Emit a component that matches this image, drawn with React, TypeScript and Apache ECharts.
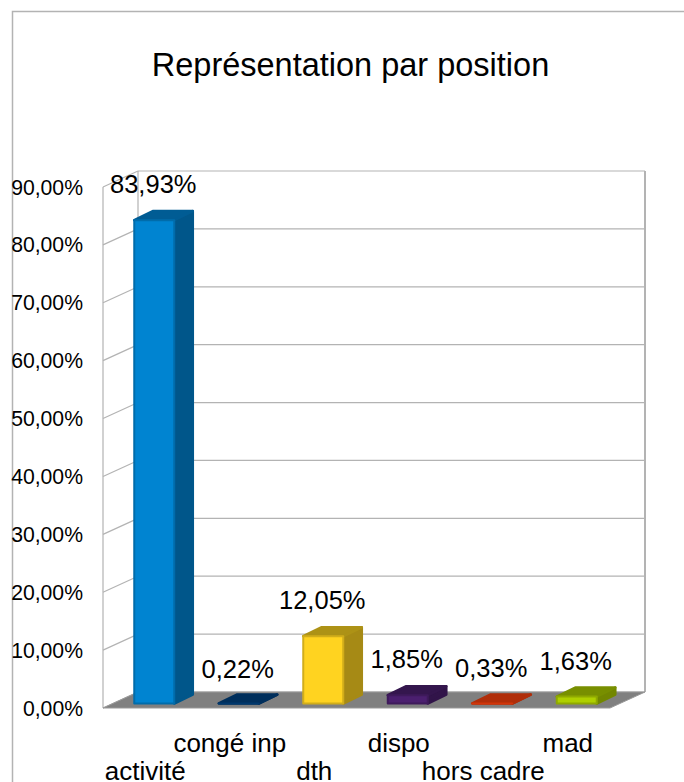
import React, { useEffect, useRef } from "react";
import * as echarts from "echarts";

const titleText = "Représentation par position";
const categories = ["activité", "congé inp", "dth", "dispo", "hors cadre", "mad"];
const values = [83.93, 0.22, 12.05, 1.85, 0.33, 1.63];
const frontColors = ["#0084d1", "#004586", "#ffd320", "#4b1f6f", "#ff420e", "#aecf00"];
const edgeColors = ["#006cab", "#00386d", "#d1ad1a", "#3e1a5b", "#d1360b", "#8fa900"];
const sideColors = ["#00568a", "#002d58", "#a68a15", "#311449", "#a62b09", "#728700"];
const topColors = ["#005c94", "#002f5c", "#ad9216", "#34164d", "#b02e0a", "#788f00"];
const yTicks = [0, 10, 20, 30, 40, 50, 60, 70, 80, 90];

const FONT = '"Liberation Sans", Arial, sans-serif';
const GRID = "#b3b3b3";
const WALL_DX = 35;
const WALL_DY = -16;
const BAR_W = 40;
const BAR_SHIFT = 9;
const BAR_DX = 18.5;
const BAR_DY = -9;

const pct = (v: number) => v.toFixed(2).replace(".", ",") + "%";

function renderWall(params: any, api: any) {
  const cs = params.coordSys;
  const left = cs.x;
  const right = cs.x + cs.width;
  const v = api.value(1);
  const y = api.coord([0, v])[1];
  const line = (x1: number, y1: number, x2: number, y2: number) => ({
    type: "line",
    shape: { x1, y1, x2, y2 },
    style: { stroke: GRID, lineWidth: 1.2, fill: "none" },
  });
  const children: any[] = [
    line(left, y, left + WALL_DX, y + WALL_DY),
    line(left + WALL_DX, y + WALL_DY, right + WALL_DX, y + WALL_DY),
  ];
  if (params.dataIndex === 0) {
    const y90 = api.coord([0, yTicks[yTicks.length - 1]])[1];
    children.push(
      line(left, y, left, y90),
      line(left + WALL_DX, y + WALL_DY, left + WALL_DX, y90 + WALL_DY),
      { ...line(right + WALL_DX, y + WALL_DY, right + WALL_DX, y90 + WALL_DY), style: { stroke: GRID, lineWidth: 2, fill: "none" } },
    );
    children.push({
      type: "polygon",
      shape: {
        points: [
          [left, y],
          [right, y],
          [right + WALL_DX, y + WALL_DY],
          [left + WALL_DX, y + WALL_DY],
        ],
      },
      style: { fill: "#808080", stroke: "#999999", lineWidth: 1 },
    });
  }
  return { type: "group", children };
}

function renderBar(params: any, api: any) {
  const i = params.dataIndex;
  const v = api.value(1);
  const c = api.coord([i, v]);
  const base = api.coord([i, 0])[1] - 4.5;
  const top = Math.min(c[1] - 2, base);
  const x0 = c[0] + BAR_SHIFT - BAR_W / 2;
  const x1 = x0 + BAR_W;
  const poly = (pts: number[][], fill: string, stroke: string, lineWidth: number) => ({
    type: "polygon",
    shape: { points: pts },
    style: { fill, stroke, lineWidth, lineJoin: "round" },
  });
  return {
    type: "group",
    children: [
      poly([[x1, base], [x1 + BAR_DX, base + BAR_DY], [x1 + BAR_DX, top + BAR_DY], [x1, top]], sideColors[i], sideColors[i], 2.6),
      poly([[x0, top], [x1, top], [x1 + BAR_DX, top + BAR_DY], [x0 + BAR_DX, top + BAR_DY]], topColors[i], topColors[i], 2.6),
      poly([[x0, base], [x1, base], [x1, top], [x0, top]], frontColors[i], edgeColors[i], 2),
      {
        type: "text",
        x: c[0] + BAR_SHIFT - 1,
        y: c[1] - 38,
        style: {
          text: pct(v),
          fill: "#000000",
          font: `25.5px ${FONT}`,
          align: "center",
          verticalAlign: "middle",
        },
      },
    ],
  };
}

export default function App() {
  const ref = useRef<HTMLDivElement>(null);
  useEffect(() => {
    const chart = echarts.init(ref.current!, undefined, { renderer: "svg" });
    chart.setOption({
      animation: false,
      backgroundColor: "#ffffff",
      title: {
        text: titleText,
        left: 345.5,
        top: 43,
        textAlign: "center",
        textStyle: { fontFamily: FONT, fontSize: 32.5, fontWeight: "normal", color: "#000000" },
      },
      grid: { left: 103, right: 74, top: 187, bottom: 74, containLabel: false, outerBoundsMode: "none" },
      xAxis: {
        type: "category",
        data: categories,
        axisLine: { show: false },
        axisTick: { show: false },
        axisLabel: {
          interval: 0,
          margin: 21,
          fontFamily: FONT,
          fontSize: 26,
          lineHeight: 28,
          color: "#000000",
          hideOverlap: false,
          formatter: (v: string, i: number) => (i % 2 === 0 ? "\n" + v : v),
        },
      },
      yAxis: {
        type: "value",
        min: 0,
        max: 90,
        interval: 10,
        splitLine: { show: false },
        axisLine: { show: false },
        axisTick: { show: false },
        axisLabel: {
          margin: 20,
          fontFamily: FONT,
          fontSize: 21.2,
          color: "#000000",
          formatter: (v: number) => pct(v),
        },
      },
      series: [
        {
          type: "custom",
          name: "walls",
          coordinateSystem: "cartesian2d",
          renderItem: renderWall,
          data: yTicks.map((t) => [0, t]),
          z: 1,
          silent: true,
        },
        {
          type: "custom",
          name: "bars",
          coordinateSystem: "cartesian2d",
          renderItem: renderBar,
          data: values.map((v, i) => [i, v]),
          z: 2,
          silent: true,
        },
      ],
      graphic: [
        {
          type: "polyline",
          shape: { points: [[12.5, 782], [12.5, 11.5], [684, 11.5]] },
          style: { stroke: GRID, lineWidth: 1.5, fill: "none" },
          silent: true,
        },
      ],
    });
    return () => chart.dispose();
  }, []);
  return <div ref={ref} style={{ position: "absolute", left: 0, top: 0, width: 684, height: 782 }} />;
}
